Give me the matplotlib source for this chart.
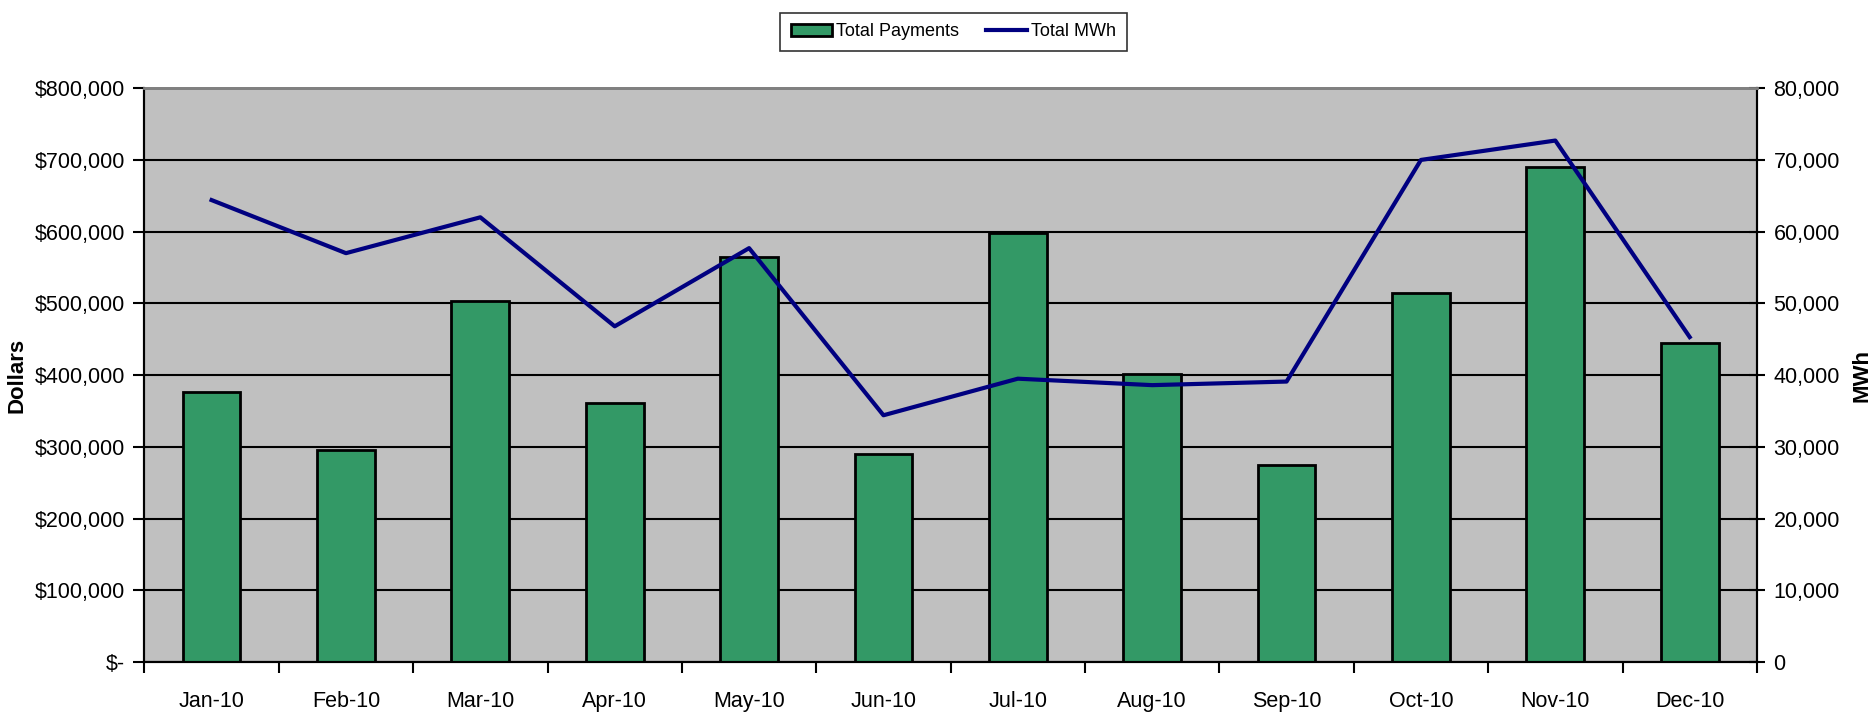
import numpy as np
import matplotlib.pyplot as plt
from matplotlib.ticker import FuncFormatter

months = ["Jan-10", "Feb-10", "Mar-10", "Apr-10", "May-10", "Jun-10",
          "Jul-10", "Aug-10", "Sep-10", "Oct-10", "Nov-10", "Dec-10"]
payments = [376000, 295000, 503000, 361000, 564000, 290000,
            598000, 401000, 275000, 515000, 690000, 445000]
mwh = [64400, 57000, 62000, 46800, 57700, 34400,
       39500, 38600, 39100, 70000, 72700, 45300]

plt.rcParams['font.family'] = ['Liberation Sans', 'DejaVu Sans']

fig = plt.figure(figsize=(18.73, 7.17), dpi=100)
ax = fig.add_axes([0.0771, 0.0767, 0.8609, 0.8003])
ax2 = ax.twinx()

x = np.arange(len(months))
ax.set_facecolor('#C0C0C0')
ax.set_axisbelow(True)
ax.yaxis.grid(True, color='black', linewidth=1.5)
bars = ax.bar(x, payments, width=0.43, color='#339966', edgecolor='black',
              linewidth=2, label='Total Payments', zorder=2)
line, = ax2.plot(x, mwh, color='#000080', linewidth=3, label='Total MWh')

ax.set_xlim(-0.5, len(months) - 0.5)
ax.set_ylim(0, 800000)
ax2.set_ylim(0, 80000)
ax.set_yticks(np.arange(0, 800001, 100000))
ax2.set_yticks(np.arange(0, 80001, 10000))

def dollars(v, pos):
    return '$-' if v == 0 else '${:,.0f}'.format(v)

ax.yaxis.set_major_formatter(FuncFormatter(dollars))
ax2.yaxis.set_major_formatter(FuncFormatter(lambda v, p: '{:,.0f}'.format(v)))
ax.set_xticks(x)
ax.set_xticklabels(months)
# tick marks sit between the months
ax.set_xticks(np.arange(-0.5, len(months), 1.0), minor=True)
ax.tick_params(axis='x', which='major', length=0, labelsize=15.5, pad=21)
ax.tick_params(axis='x', which='minor', direction='out', length=8, width=1.5)
ax.tick_params(axis='y', direction='out', length=8, width=1.5, labelsize=15.5, pad=6)
ax2.tick_params(axis='y', direction='inout', length=12, width=1.5, labelsize=15.5, pad=6)

for a in (ax, ax2):
    for s in ('left', 'right', 'bottom'):
        a.spines[s].set_linewidth(1.5)
        a.spines[s].set_color('black')
    a.spines['top'].set_color('#808080')
    a.spines['top'].set_linewidth(2)

ax.set_ylabel('Dollars', fontsize=16, fontweight='bold', labelpad=5)
ax2.set_ylabel('MWh', fontsize=16, fontweight='bold', labelpad=8)

leg = fig.legend(handles=[bars, line], loc='upper center', bbox_to_anchor=(0.509, 0.995),
                 ncol=2, fontsize=13, frameon=True, fancybox=False,
                 edgecolor='black', handlelength=2.3, columnspacing=1.5,
                 handletextpad=0.2, borderpad=0.6)
leg.get_frame().set_linewidth(1.2)

fig.savefig('out.png', dpi=100)
